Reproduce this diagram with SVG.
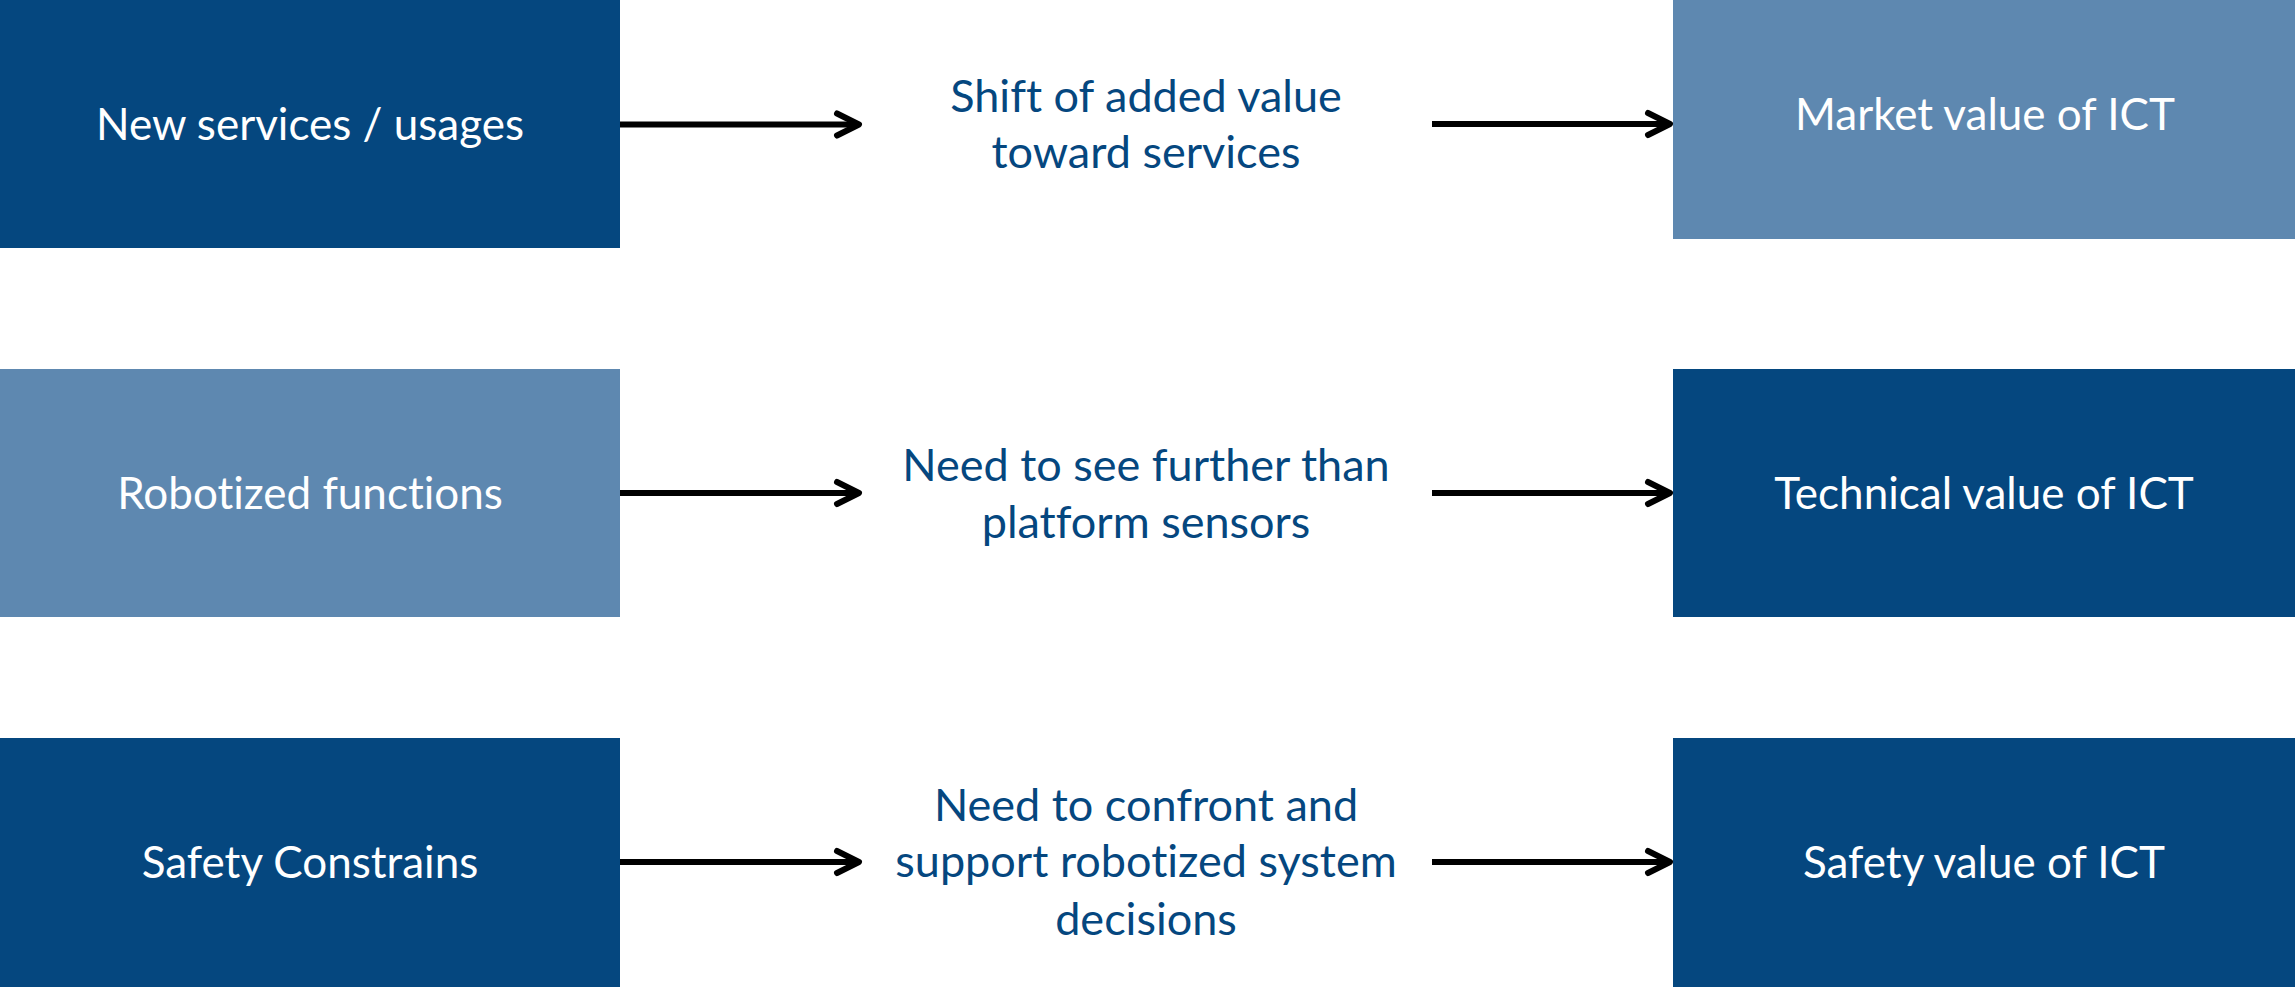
<svg xmlns="http://www.w3.org/2000/svg" width="2295" height="987" viewBox="0 0 2295 987">
<defs>
<style>
.dark{fill:#05477F}
.light{fill:#5E88B0}
.lbl{font-family:Lato,"Open Sans",sans-serif;font-size:44px;fill:#ffffff;text-anchor:middle;font-variant-ligatures:none}
.mid{font-family:Lato,"Open Sans",sans-serif;font-size:45px;fill:#05477F;text-anchor:middle;font-variant-ligatures:none}
.conn{stroke:#000;stroke-width:6;fill:none}
</style>
<marker id="arr" markerUnits="userSpaceOnUse" viewBox="-30 -20 40 40" markerWidth="40" markerHeight="40" refX="0" refY="0" orient="auto">
<path d="M-22,-11 L0,0 L-22,11" fill="none" stroke="#000" stroke-width="6" stroke-linecap="round" stroke-linejoin="round"/>
</marker>
</defs>
<rect width="2295" height="987" fill="#ffffff"/>
<g id="n1"><rect class="dark" x="0" y="0" width="620" height="248"/><text class="lbl" x="310" y="140">New services / usages</text></g>
<g id="n2"><text class="mid" x="1146" y="112">Shift of added value</text><text class="mid" x="1146" y="168">toward services</text></g>
<g id="n3"><rect class="light" x="1673" y="0" width="622" height="239"/><text class="lbl" x="1985" y="130">Market value of ICT</text></g>
<g id="n4"><rect class="light" x="0" y="369" width="620" height="248"/><text class="lbl" x="310" y="509">Robotized functions</text></g>
<g id="n5"><text class="mid" x="1146" y="481">Need to see further than</text><text class="mid" x="1146" y="538">platform sensors</text></g>
<g id="n6"><rect class="dark" x="1673" y="369" width="622" height="248"/><text class="lbl" x="1984" y="509">Technical value of ICT</text></g>
<g id="n7"><rect class="dark" x="0" y="738" width="620" height="249"/><text class="lbl" x="310" y="878">Safety Constrains</text></g>
<g id="n8"><text class="mid" x="1146" y="821">Need to confront and</text><text class="mid" x="1146" y="877">support robotized system</text><text class="mid" x="1146" y="935">decisions</text></g>
<g id="n9"><rect class="dark" x="1673" y="738" width="622" height="249"/><text class="lbl" x="1984" y="878">Safety value of ICT</text></g>
<g id="connectors">
<path class="conn" d="M620 124.5 H859" marker-end="url(#arr)"/>
<path class="conn" d="M1432 124 H1670" marker-end="url(#arr)"/>
<path class="conn" d="M620 493 H859" marker-end="url(#arr)"/>
<path class="conn" d="M1432 493 H1670" marker-end="url(#arr)"/>
<path class="conn" d="M620 862 H859" marker-end="url(#arr)"/>
<path class="conn" d="M1432 862 H1670" marker-end="url(#arr)"/>
</g>
</svg>
